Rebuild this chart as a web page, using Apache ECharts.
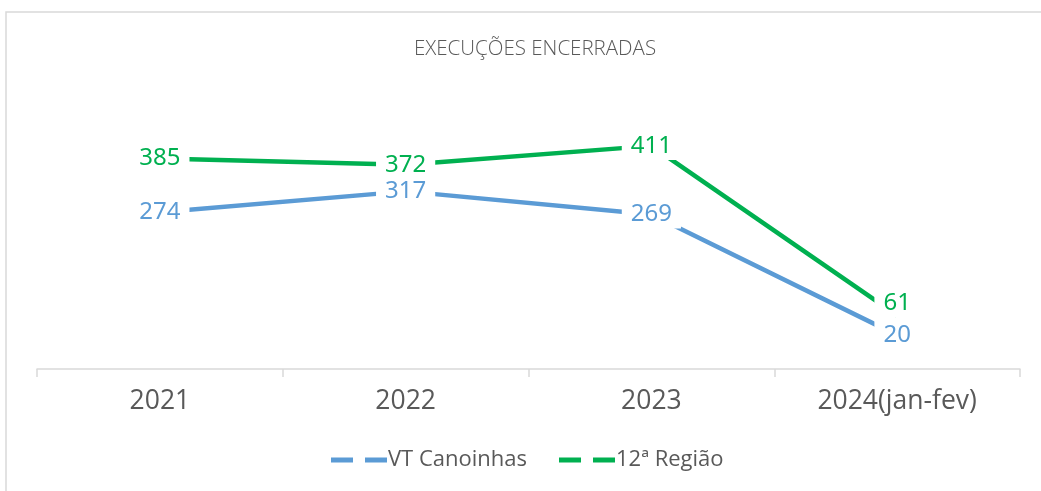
<!DOCTYPE html>
<html>
<head>
<meta charset="utf-8">
<script src="https://cdn.jsdelivr.net/npm/echarts@6/dist/echarts.min.js"></script>
<style>
  html, body { margin: 0; padding: 0; background: #ffffff; }
  #chart { width: 1041px; height: 491px; }
</style>
</head>
<body>
<div id="chart"></div>
<script>
const titleText = 'EXECUÇÕES ENCERRADAS';
const categories = ['2021', '2022', '2023', '2024(jan-fev)'];
const seriesNames = ['VT Canoinhas', '12ª Região'];
const vtCanoinhas = [274, 317, 269, 20];
const regiao12 = [385, 372, 411, 61];

const blue = '#5B9BD5';
const green = '#00B050';
const grayText = '#595959';

const chart = echarts.init(document.getElementById('chart'), null, { renderer: 'canvas' });

function labelStyle(color) {
  return {
    show: true,
    position: 'inside',
    color: color,
    fontFamily: 'Noto Sans',
    fontSize: 24,
    backgroundColor: '#ffffff',
    padding: [2, 9, 2, 9]
  };
}

const greenData = regiao12.map((v, i) => i === regiao12.length - 1
  ? { value: v, label: { offset: [0, -12] } }
  : v);

const option = {
  animation: false,
  backgroundColor: '#ffffff',
  graphic: [{
    type: 'rect',
    shape: { x: 6, y: 12, width: 1100, height: 600 },
    style: { fill: 'none', stroke: '#D9D9D9', lineWidth: 1.5 },
    silent: true,
    z: -10
  }],
  title: {
    text: titleText,
    left: 530,
    textAlign: 'center',
    top: 34,
    textStyle: {
      color: grayText,
      fontFamily: 'Open Sans',
      fontWeight: 300,
      fontSize: 20.5
    }
  },
  legend: {
    data: seriesNames,
    left: 326,
    top: 443,
    itemWidth: 56,
    itemHeight: 5,
    itemGap: 32,
    icon: 'path://M0,0 H22 V5 H0 Z M34,0 H56 V5 H34 Z',
    textStyle: {
      color: grayText,
      fontFamily: 'Open Sans',
      fontSize: 22,
      lineHeight: 24,
      padding: [0, 0, 0, -4]
    },
    selectedMode: false
  },
  grid: {
    left: 37,
    right: 21,
    top: 127,
    bottom: 122,
    containLabel: false
  },
  xAxis: {
    type: 'category',
    data: categories,
    boundaryGap: true,
    axisLine: { show: true, onZero: false, lineStyle: { color: '#D9D9D9', width: 1.5 } },
    axisTick: { show: true, length: 8, lineStyle: { color: '#D9D9D9', width: 1.5 } },
    axisLabel: {
      color: grayText,
      fontFamily: 'Open Sans',
      fontSize: 26.5,
      margin: 19
    },
    splitLine: { show: false }
  },
  yAxis: {
    type: 'value',
    min: -50,
    max: 450,
    show: false,
    splitLine: { show: false }
  },
  series: [
    {
      name: seriesNames[0],
      type: 'line',
      data: vtCanoinhas,
      color: blue,
      symbol: 'circle',
      symbolSize: 2,
      showSymbol: true,
      lineStyle: { color: blue, width: 4.5 },
      itemStyle: { color: blue },
      label: labelStyle(blue),
      emphasis: { disabled: true },
      z: 2
    },
    {
      name: seriesNames[1],
      type: 'line',
      data: greenData,
      color: green,
      symbol: 'circle',
      symbolSize: 2,
      showSymbol: true,
      lineStyle: { color: green, width: 4.5 },
      itemStyle: { color: green },
      label: labelStyle(green),
      emphasis: { disabled: true },
      z: 3
    }
  ]
};

chart.setOption(option);
</script>
</body>
</html>
